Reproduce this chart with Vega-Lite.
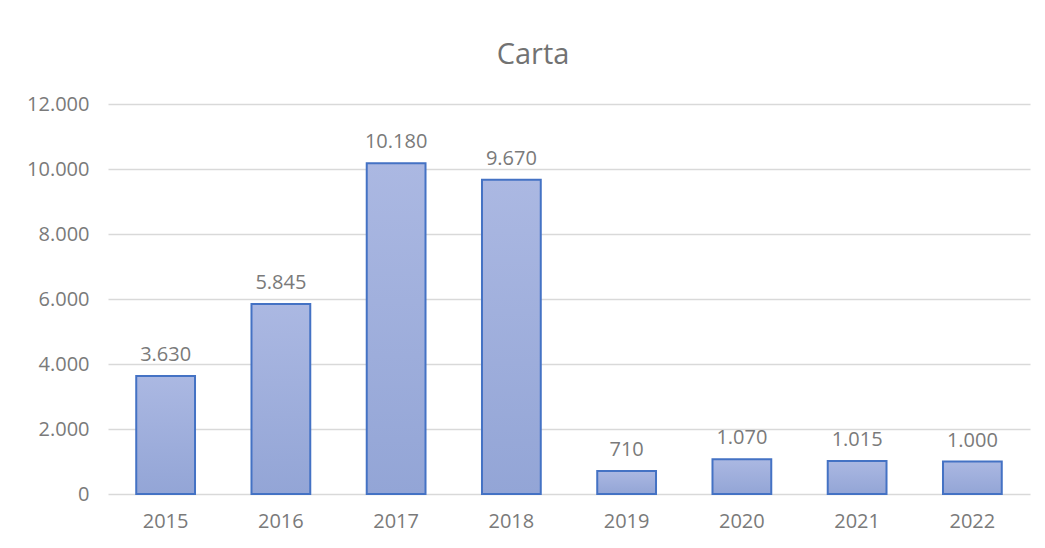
{
  "$schema": "https://vega.github.io/schema/vega-lite/v6.json",
  "autosize": "none",
  "width": 922,
  "height": 390,
  "padding": {"left": 108, "top": 104, "right": 15, "bottom": 54},
  "background": "white",
  "title": {"text": "Carta", "fontSize": 29, "font": "Open Sans", "fontWeight": "normal", "color": "#727272", "anchor": "middle", "frame": "group", "dx": -36, "offset": 24},
  "config": {
    "locale": {"number": {"decimal": ",", "thousands": ".", "grouping": [3], "currency": ["€", ""]}},
    "view": {"stroke": null},
    "font": "Open Sans"
  },
  "data": {"values": [
    {"anno": "2015", "valore": 3630},
    {"anno": "2016", "valore": 5845},
    {"anno": "2017", "valore": 10180},
    {"anno": "2018", "valore": 9670},
    {"anno": "2019", "valore": 710},
    {"anno": "2020", "valore": 1070},
    {"anno": "2021", "valore": 1015},
    {"anno": "2022", "valore": 1000}
  ]},
  "encoding": {
    "x": {"field": "anno", "type": "nominal", "sort": null,
      "scale": {"paddingInner": 0.49, "paddingOuter": 0.245},
      "axis": {"title": null, "labelAngle": 0, "ticks": false, "domain": false, "labelFontSize": 20, "labelColor": "#7a7a7a", "labelPadding": 17, "labelFont": "Open Sans"}},
    "y": {"field": "valore", "type": "quantitative",
      "scale": {"domain": [0, 12000], "nice": false},
      "axis": {"title": null, "values": [0, 2000, 4000, 6000, 8000, 10000, 12000], "format": ",d", "ticks": false, "domain": false, "labelFontSize": 20, "labelColor": "#7a7a7a", "labelPadding": 19, "gridColor": "#d9d9d9", "gridWidth": 1.5, "labelFont": "Open Sans"}}
  },
  "layer": [
    {"mark": {"type": "bar", "stroke": "#4472c4", "strokeWidth": 2,
      "color": {"gradient": "linear", "x1": 0, "y1": 0, "x2": 0, "y2": 1, "stops": [{"offset": 0, "color": "#abb8e2"}, {"offset": 1, "color": "#93a5d6"}]}}},
    {"mark": {"type": "text", "baseline": "bottom", "dy": -11, "fontSize": 20, "color": "#7a7a7a", "font": "Open Sans"},
      "encoding": {"text": {"field": "valore", "type": "quantitative", "format": ",d"}}}
  ]
}
